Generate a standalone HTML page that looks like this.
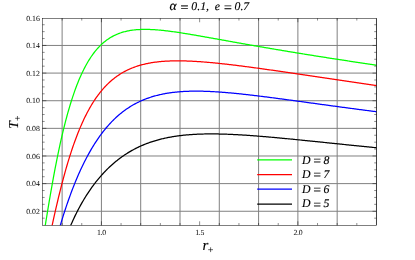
<!DOCTYPE html>
<html><head><meta charset="utf-8"><title>plot</title>
<style>html,body{margin:0;padding:0;background:#fff;}text{stroke:#000;stroke-width:0.15px;}text.tk{stroke:none;}body{width:415px;height:260px;position:relative;overflow:hidden;font-family:"Liberation Serif",serif;}</style></head>
<body>
<svg width="415" height="260" viewBox="0 0 415 260" style="position:absolute;left:0;top:0;text-rendering:geometricPrecision;will-change:transform">
<defs><clipPath id="c"><rect x="42.35" y="18.25" width="334.15" height="207.05"/></clipPath></defs>
<path d="M62.12,18.25 V225.30 M101.41,18.25 V225.30 M140.70,18.25 V225.30 M180.00,18.25 V225.30 M219.29,18.25 V225.30 M258.59,18.25 V225.30 M297.88,18.25 V225.30 M337.17,18.25 V225.30 M376.47,18.25 V225.30 M42.35,211.25 H376.50 M42.35,183.62 H376.50 M42.35,155.99 H376.50 M42.35,128.35 H376.50 M42.35,100.72 H376.50 M42.35,73.08 H376.50 M42.35,45.45 H376.50" stroke="#808080" stroke-width="1.0" fill="none"/>
<g clip-path="url(#c)" fill="none" stroke-width="1.25" stroke-linejoin="round">
<path d="M40.76,359.28 L41.60,351.97 L42.45,345.04 L43.30,338.47 L44.14,332.23 L44.99,326.31 L45.83,320.67 L46.68,315.30 L47.52,310.19 L48.37,305.30 L49.21,300.63 L50.06,296.17 L50.90,291.90 L51.75,287.80 L52.59,283.87 L53.44,280.09 L54.28,276.46 L55.13,272.97 L55.98,269.61 L56.82,266.36 L57.67,263.23 L58.51,260.20 L59.36,257.28 L60.20,254.45 L61.05,251.71 L61.89,249.05 L62.74,246.48 L63.58,243.98 L64.43,241.55 L65.27,239.19 L66.12,236.89 L66.96,234.66 L67.81,232.48 L68.66,230.36 L69.50,228.29 L70.35,226.28 L71.19,224.31 L72.04,222.39 L72.88,220.51 L73.73,218.68 L74.57,216.89 L75.42,215.14 L76.26,213.43 L77.11,211.75 L77.95,210.11 L78.80,208.50 L79.64,206.93 L80.49,205.39 L81.34,203.88 L82.18,202.40 L83.03,200.95 L83.87,199.53 L84.72,198.13 L85.56,196.77 L86.41,195.43 L87.25,194.11 L88.10,192.82 L88.94,191.56 L89.79,190.31 L90.63,189.10 L91.48,187.90 L92.32,186.73 L93.17,185.57 L94.02,184.44 L94.86,183.33 L95.71,182.24 L96.55,181.17 L97.40,180.12 L98.24,179.09 L99.09,178.08 L99.93,177.09 L100.78,176.11 L101.62,175.15 L102.47,174.21 L103.31,173.29 L104.16,172.38 L105.01,171.50 L105.85,170.62 L106.70,169.77 L107.54,168.92 L108.39,168.10 L109.23,167.29 L110.08,166.49 L110.92,165.71 L111.77,164.95 L112.61,164.20 L113.46,163.46 L114.30,162.74 L115.15,162.03 L115.99,161.33 L116.84,160.65 L117.69,159.98 L118.53,159.32 L119.38,158.68 L120.22,158.04 L121.07,157.42 L121.91,156.82 L122.76,156.22 L123.60,155.64 L124.45,155.06 L125.29,154.50 L126.14,153.95 L126.98,153.41 L127.83,152.89 L128.67,152.37 L129.52,151.86 L130.37,151.36 L131.21,150.88 L132.06,150.40 L132.90,149.94 L133.75,149.48 L134.59,149.03 L135.44,148.59 L136.28,148.16 L137.13,147.74 L137.97,147.33 L138.82,146.93 L139.66,146.54 L140.51,146.15 L141.35,145.78 L142.20,145.41 L143.05,145.05 L143.89,144.70 L144.74,144.36 L145.58,144.02 L146.43,143.69 L147.27,143.37 L148.12,143.06 L148.96,142.75 L149.81,142.45 L150.65,142.16 L151.50,141.88 L152.34,141.60 L153.19,141.33 L154.04,141.06 L154.88,140.81 L155.73,140.55 L156.57,140.31 L157.42,140.07 L158.26,139.84 L159.11,139.61 L159.95,139.39 L160.80,139.17 L161.64,138.96 L162.49,138.76 L163.33,138.56 L164.18,138.37 L165.02,138.18 L165.87,138.00 L166.72,137.82 L167.56,137.65 L168.41,137.48 L169.25,137.32 L170.10,137.16 L170.94,137.01 L171.79,136.86 L172.63,136.72 L173.48,136.58 L174.32,136.44 L175.17,136.31 L176.01,136.19 L176.86,136.06 L177.70,135.95 L178.55,135.83 L179.40,135.72 L180.24,135.62 L181.09,135.52 L181.93,135.42 L182.78,135.32 L183.62,135.23 L184.47,135.15 L185.31,135.06 L186.16,134.98 L187.00,134.91 L187.85,134.83 L188.69,134.76 L189.54,134.70 L190.38,134.63 L191.23,134.57 L192.08,134.51 L192.92,134.46 L193.77,134.41 L194.61,134.36 L195.46,134.31 L196.30,134.27 L197.15,134.23 L197.99,134.19 L198.84,134.16 L199.68,134.13 L200.53,134.10 L201.37,134.07 L202.22,134.04 L203.06,134.02 L203.91,134.00 L204.76,133.99 L205.60,133.97 L206.45,133.96 L207.29,133.95 L208.14,133.94 L208.98,133.93 L209.83,133.93 L210.67,133.92 L211.52,133.92 L212.36,133.93 L213.21,133.93 L214.05,133.93 L214.90,133.94 L215.75,133.95 L216.59,133.96 L217.44,133.97 L218.28,133.99 L219.13,134.01 L219.97,134.02 L220.82,134.04 L221.66,134.06 L222.51,134.09 L223.35,134.11 L224.20,134.14 L225.04,134.16 L225.89,134.19 L226.73,134.22 L227.58,134.25 L228.43,134.29 L229.27,134.32 L230.12,134.35 L230.96,134.39 L231.81,134.43 L232.65,134.47 L233.50,134.51 L234.34,134.55 L235.19,134.59 L236.03,134.64 L236.88,134.68 L237.72,134.73 L238.57,134.78 L239.41,134.82 L240.26,134.87 L241.11,134.92 L241.95,134.97 L242.80,135.03 L243.64,135.08 L244.49,135.13 L245.33,135.19 L246.18,135.24 L247.02,135.30 L247.87,135.36 L248.71,135.42 L249.56,135.48 L250.40,135.54 L251.25,135.60 L252.09,135.66 L252.94,135.72 L253.79,135.78 L254.63,135.85 L255.48,135.91 L256.32,135.98 L257.17,136.04 L258.01,136.11 L258.86,136.18 L259.70,136.25 L260.55,136.31 L261.39,136.38 L262.24,136.45 L263.08,136.52 L263.93,136.59 L264.77,136.66 L265.62,136.74 L266.47,136.81 L267.31,136.88 L268.16,136.95 L269.00,137.03 L269.85,137.10 L270.69,137.18 L271.54,137.25 L272.38,137.33 L273.23,137.40 L274.07,137.48 L274.92,137.56 L275.76,137.63 L276.61,137.71 L277.46,137.79 L278.30,137.87 L279.15,137.95 L279.99,138.02 L280.84,138.10 L281.68,138.18 L282.53,138.26 L283.37,138.34 L284.22,138.42 L285.06,138.51 L285.91,138.59 L286.75,138.67 L287.60,138.75 L288.44,138.83 L289.29,138.91 L290.14,139.00 L290.98,139.08 L291.83,139.16 L292.67,139.24 L293.52,139.33 L294.36,139.41 L295.21,139.50 L296.05,139.58 L296.90,139.66 L297.74,139.75 L298.59,139.83 L299.43,139.92 L300.28,140.00 L301.12,140.09 L301.97,140.17 L302.82,140.26 L303.66,140.34 L304.51,140.43 L305.35,140.51 L306.20,140.60 L307.04,140.68 L307.89,140.77 L308.73,140.86 L309.58,140.94 L310.42,141.03 L311.27,141.11 L312.11,141.20 L312.96,141.29 L313.80,141.37 L314.65,141.46 L315.50,141.55 L316.34,141.63 L317.19,141.72 L318.03,141.81 L318.88,141.89 L319.72,141.98 L320.57,142.07 L321.41,142.15 L322.26,142.24 L323.10,142.33 L323.95,142.42 L324.79,142.50 L325.64,142.59 L326.49,142.68 L327.33,142.76 L328.18,142.85 L329.02,142.94 L329.87,143.03 L330.71,143.11 L331.56,143.20 L332.40,143.29 L333.25,143.37 L334.09,143.46 L334.94,143.55 L335.78,143.64 L336.63,143.72 L337.47,143.81 L338.32,143.90 L339.17,143.98 L340.01,144.07 L340.86,144.16 L341.70,144.24 L342.55,144.33 L343.39,144.42 L344.24,144.50 L345.08,144.59 L345.93,144.68 L346.77,144.76 L347.62,144.85 L348.46,144.94 L349.31,145.02 L350.15,145.11 L351.00,145.20 L351.85,145.28 L352.69,145.37 L353.54,145.45 L354.38,145.54 L355.23,145.63 L356.07,145.71 L356.92,145.80 L357.76,145.88 L358.61,145.97 L359.45,146.06 L360.30,146.14 L361.14,146.23 L361.99,146.31 L362.83,146.40 L363.68,146.48 L364.53,146.57 L365.37,146.65 L366.22,146.74 L367.06,146.82 L367.91,146.91 L368.75,146.99 L369.60,147.08 L370.44,147.16 L371.29,147.24 L372.13,147.33 L372.98,147.41 L373.82,147.50 L374.67,147.58 L375.51,147.66 L376.36,147.75 L377.21,147.83 L378.05,147.91" stroke="#000000"/>
<path d="M40.76,310.74 L41.60,305.97 L42.45,301.34 L43.30,296.84 L44.14,292.45 L44.99,288.18 L45.83,284.01 L46.68,279.95 L47.52,275.99 L48.37,272.11 L49.21,268.33 L50.06,264.63 L50.90,261.00 L51.75,257.46 L52.59,253.99 L53.44,250.60 L54.28,247.27 L55.13,244.01 L55.98,240.82 L56.82,237.68 L57.67,234.61 L58.51,231.60 L59.36,228.64 L60.20,225.74 L61.05,222.90 L61.89,220.10 L62.74,217.36 L63.58,214.67 L64.43,212.03 L65.27,209.44 L66.12,206.90 L66.96,204.40 L67.81,201.95 L68.66,199.54 L69.50,197.18 L70.35,194.85 L71.19,192.58 L72.04,190.34 L72.88,188.14 L73.73,185.99 L74.57,183.87 L75.42,181.79 L76.26,179.75 L77.11,177.75 L77.95,175.78 L78.80,173.85 L79.64,171.96 L80.49,170.10 L81.34,168.28 L82.18,166.49 L83.03,164.73 L83.87,163.01 L84.72,161.32 L85.56,159.66 L86.41,158.03 L87.25,156.44 L88.10,154.87 L88.94,153.34 L89.79,151.83 L90.63,150.35 L91.48,148.91 L92.32,147.49 L93.17,146.09 L94.02,144.73 L94.86,143.39 L95.71,142.08 L96.55,140.80 L97.40,139.54 L98.24,138.30 L99.09,137.09 L99.93,135.91 L100.78,134.75 L101.62,133.61 L102.47,132.50 L103.31,131.41 L104.16,130.34 L105.01,129.29 L105.85,128.27 L106.70,127.27 L107.54,126.29 L108.39,125.32 L109.23,124.38 L110.08,123.46 L110.92,122.56 L111.77,121.68 L112.61,120.82 L113.46,119.98 L114.30,119.15 L115.15,118.34 L115.99,117.55 L116.84,116.78 L117.69,116.03 L118.53,115.29 L119.38,114.57 L120.22,113.86 L121.07,113.18 L121.91,112.50 L122.76,111.85 L123.60,111.20 L124.45,110.58 L125.29,109.96 L126.14,109.36 L126.98,108.78 L127.83,108.21 L128.67,107.65 L129.52,107.11 L130.37,106.58 L131.21,106.06 L132.06,105.56 L132.90,105.06 L133.75,104.58 L134.59,104.11 L135.44,103.66 L136.28,103.21 L137.13,102.78 L137.97,102.36 L138.82,101.95 L139.66,101.55 L140.51,101.16 L141.35,100.78 L142.20,100.41 L143.05,100.05 L143.89,99.70 L144.74,99.36 L145.58,99.02 L146.43,98.70 L147.27,98.39 L148.12,98.09 L148.96,97.79 L149.81,97.50 L150.65,97.23 L151.50,96.96 L152.34,96.70 L153.19,96.44 L154.04,96.20 L154.88,95.96 L155.73,95.73 L156.57,95.50 L157.42,95.29 L158.26,95.08 L159.11,94.87 L159.95,94.68 L160.80,94.49 L161.64,94.31 L162.49,94.13 L163.33,93.96 L164.18,93.80 L165.02,93.64 L165.87,93.49 L166.72,93.34 L167.56,93.20 L168.41,93.07 L169.25,92.94 L170.10,92.81 L170.94,92.70 L171.79,92.58 L172.63,92.48 L173.48,92.37 L174.32,92.27 L175.17,92.18 L176.01,92.09 L176.86,92.01 L177.70,91.93 L178.55,91.85 L179.40,91.78 L180.24,91.71 L181.09,91.65 L181.93,91.59 L182.78,91.54 L183.62,91.49 L184.47,91.44 L185.31,91.40 L186.16,91.36 L187.00,91.32 L187.85,91.29 L188.69,91.26 L189.54,91.24 L190.38,91.21 L191.23,91.19 L192.08,91.18 L192.92,91.17 L193.77,91.16 L194.61,91.15 L195.46,91.15 L196.30,91.15 L197.15,91.15 L197.99,91.15 L198.84,91.16 L199.68,91.17 L200.53,91.18 L201.37,91.20 L202.22,91.22 L203.06,91.24 L203.91,91.26 L204.76,91.28 L205.60,91.31 L206.45,91.34 L207.29,91.37 L208.14,91.41 L208.98,91.44 L209.83,91.48 L210.67,91.52 L211.52,91.56 L212.36,91.61 L213.21,91.65 L214.05,91.70 L214.90,91.75 L215.75,91.80 L216.59,91.85 L217.44,91.91 L218.28,91.96 L219.13,92.02 L219.97,92.08 L220.82,92.14 L221.66,92.21 L222.51,92.27 L223.35,92.33 L224.20,92.40 L225.04,92.47 L225.89,92.54 L226.73,92.61 L227.58,92.68 L228.43,92.76 L229.27,92.83 L230.12,92.91 L230.96,92.98 L231.81,93.06 L232.65,93.14 L233.50,93.22 L234.34,93.30 L235.19,93.39 L236.03,93.47 L236.88,93.55 L237.72,93.64 L238.57,93.73 L239.41,93.81 L240.26,93.90 L241.11,93.99 L241.95,94.08 L242.80,94.17 L243.64,94.26 L244.49,94.36 L245.33,94.45 L246.18,94.55 L247.02,94.64 L247.87,94.74 L248.71,94.83 L249.56,94.93 L250.40,95.03 L251.25,95.13 L252.09,95.22 L252.94,95.32 L253.79,95.42 L254.63,95.53 L255.48,95.63 L256.32,95.73 L257.17,95.83 L258.01,95.93 L258.86,96.04 L259.70,96.14 L260.55,96.25 L261.39,96.35 L262.24,96.46 L263.08,96.56 L263.93,96.67 L264.77,96.78 L265.62,96.88 L266.47,96.99 L267.31,97.10 L268.16,97.21 L269.00,97.32 L269.85,97.42 L270.69,97.53 L271.54,97.64 L272.38,97.75 L273.23,97.86 L274.07,97.97 L274.92,98.09 L275.76,98.20 L276.61,98.31 L277.46,98.42 L278.30,98.53 L279.15,98.64 L279.99,98.76 L280.84,98.87 L281.68,98.98 L282.53,99.09 L283.37,99.21 L284.22,99.32 L285.06,99.43 L285.91,99.55 L286.75,99.66 L287.60,99.78 L288.44,99.89 L289.29,100.00 L290.14,100.12 L290.98,100.23 L291.83,100.35 L292.67,100.46 L293.52,100.58 L294.36,100.69 L295.21,100.81 L296.05,100.92 L296.90,101.04 L297.74,101.15 L298.59,101.27 L299.43,101.39 L300.28,101.50 L301.12,101.62 L301.97,101.73 L302.82,101.85 L303.66,101.96 L304.51,102.08 L305.35,102.20 L306.20,102.31 L307.04,102.43 L307.89,102.54 L308.73,102.66 L309.58,102.78 L310.42,102.89 L311.27,103.01 L312.11,103.12 L312.96,103.24 L313.80,103.35 L314.65,103.47 L315.50,103.59 L316.34,103.70 L317.19,103.82 L318.03,103.93 L318.88,104.05 L319.72,104.17 L320.57,104.28 L321.41,104.40 L322.26,104.51 L323.10,104.63 L323.95,104.74 L324.79,104.86 L325.64,104.97 L326.49,105.09 L327.33,105.20 L328.18,105.32 L329.02,105.43 L329.87,105.55 L330.71,105.66 L331.56,105.78 L332.40,105.89 L333.25,106.01 L334.09,106.12 L334.94,106.24 L335.78,106.35 L336.63,106.47 L337.47,106.58 L338.32,106.69 L339.17,106.81 L340.01,106.92 L340.86,107.04 L341.70,107.15 L342.55,107.26 L343.39,107.38 L344.24,107.49 L345.08,107.60 L345.93,107.72 L346.77,107.83 L347.62,107.94 L348.46,108.06 L349.31,108.17 L350.15,108.28 L351.00,108.39 L351.85,108.50 L352.69,108.62 L353.54,108.73 L354.38,108.84 L355.23,108.95 L356.07,109.06 L356.92,109.18 L357.76,109.29 L358.61,109.40 L359.45,109.51 L360.30,109.62 L361.14,109.73 L361.99,109.84 L362.83,109.95 L363.68,110.06 L364.53,110.17 L365.37,110.28 L366.22,110.39 L367.06,110.50 L367.91,110.61 L368.75,110.72 L369.60,110.83 L370.44,110.94 L371.29,111.05 L372.13,111.16 L372.98,111.27 L373.82,111.38 L374.67,111.48 L375.51,111.59 L376.36,111.70 L377.21,111.81 L378.05,111.92" stroke="#0000ff"/>
<path d="M40.76,278.40 L41.60,274.64 L42.45,270.81 L43.30,266.91 L44.14,262.97 L44.99,259.00 L45.83,255.00 L46.68,250.99 L47.52,246.98 L48.37,242.98 L49.21,238.99 L50.06,235.02 L50.90,231.08 L51.75,227.16 L52.59,223.29 L53.44,219.45 L54.28,215.66 L55.13,211.92 L55.98,208.23 L56.82,204.59 L57.67,201.00 L58.51,197.47 L59.36,194.01 L60.20,190.59 L61.05,187.24 L61.89,183.96 L62.74,180.73 L63.58,177.56 L64.43,174.46 L65.27,171.42 L66.12,168.44 L66.96,165.52 L67.81,162.67 L68.66,159.88 L69.50,157.15 L70.35,154.47 L71.19,151.86 L72.04,149.31 L72.88,146.82 L73.73,144.38 L74.57,142.00 L75.42,139.68 L76.26,137.42 L77.11,135.20 L77.95,133.04 L78.80,130.94 L79.64,128.88 L80.49,126.88 L81.34,124.93 L82.18,123.02 L83.03,121.16 L83.87,119.36 L84.72,117.59 L85.56,115.87 L86.41,114.20 L87.25,112.57 L88.10,110.98 L88.94,109.43 L89.79,107.92 L90.63,106.46 L91.48,105.03 L92.32,103.64 L93.17,102.28 L94.02,100.97 L94.86,99.68 L95.71,98.44 L96.55,97.22 L97.40,96.04 L98.24,94.89 L99.09,93.77 L99.93,92.69 L100.78,91.63 L101.62,90.60 L102.47,89.60 L103.31,88.63 L104.16,87.68 L105.01,86.76 L105.85,85.87 L106.70,85.00 L107.54,84.16 L108.39,83.34 L109.23,82.55 L110.08,81.77 L110.92,81.02 L111.77,80.29 L112.61,79.58 L113.46,78.90 L114.30,78.23 L115.15,77.58 L115.99,76.95 L116.84,76.34 L117.69,75.75 L118.53,75.17 L119.38,74.61 L120.22,74.07 L121.07,73.55 L121.91,73.04 L122.76,72.55 L123.60,72.07 L124.45,71.61 L125.29,71.16 L126.14,70.72 L126.98,70.30 L127.83,69.89 L128.67,69.50 L129.52,69.12 L130.37,68.75 L131.21,68.39 L132.06,68.04 L132.90,67.71 L133.75,67.39 L134.59,67.08 L135.44,66.77 L136.28,66.48 L137.13,66.20 L137.97,65.93 L138.82,65.67 L139.66,65.42 L140.51,65.17 L141.35,64.94 L142.20,64.71 L143.05,64.50 L143.89,64.29 L144.74,64.09 L145.58,63.89 L146.43,63.71 L147.27,63.53 L148.12,63.36 L148.96,63.19 L149.81,63.04 L150.65,62.89 L151.50,62.74 L152.34,62.61 L153.19,62.48 L154.04,62.35 L154.88,62.23 L155.73,62.12 L156.57,62.02 L157.42,61.91 L158.26,61.82 L159.11,61.73 L159.95,61.64 L160.80,61.56 L161.64,61.49 L162.49,61.41 L163.33,61.35 L164.18,61.29 L165.02,61.23 L165.87,61.18 L166.72,61.13 L167.56,61.08 L168.41,61.04 L169.25,61.01 L170.10,60.98 L170.94,60.95 L171.79,60.92 L172.63,60.90 L173.48,60.88 L174.32,60.87 L175.17,60.86 L176.01,60.85 L176.86,60.84 L177.70,60.84 L178.55,60.84 L179.40,60.85 L180.24,60.86 L181.09,60.87 L181.93,60.88 L182.78,60.89 L183.62,60.91 L184.47,60.93 L185.31,60.96 L186.16,60.98 L187.00,61.01 L187.85,61.04 L188.69,61.07 L189.54,61.11 L190.38,61.14 L191.23,61.18 L192.08,61.23 L192.92,61.27 L193.77,61.31 L194.61,61.36 L195.46,61.41 L196.30,61.46 L197.15,61.51 L197.99,61.57 L198.84,61.63 L199.68,61.68 L200.53,61.74 L201.37,61.80 L202.22,61.87 L203.06,61.93 L203.91,62.00 L204.76,62.07 L205.60,62.13 L206.45,62.21 L207.29,62.28 L208.14,62.35 L208.98,62.42 L209.83,62.50 L210.67,62.58 L211.52,62.65 L212.36,62.73 L213.21,62.81 L214.05,62.90 L214.90,62.98 L215.75,63.06 L216.59,63.15 L217.44,63.23 L218.28,63.32 L219.13,63.41 L219.97,63.50 L220.82,63.59 L221.66,63.68 L222.51,63.77 L223.35,63.86 L224.20,63.96 L225.04,64.05 L225.89,64.15 L226.73,64.24 L227.58,64.34 L228.43,64.44 L229.27,64.54 L230.12,64.63 L230.96,64.73 L231.81,64.83 L232.65,64.94 L233.50,65.04 L234.34,65.14 L235.19,65.24 L236.03,65.35 L236.88,65.45 L237.72,65.56 L238.57,65.66 L239.41,65.77 L240.26,65.88 L241.11,65.98 L241.95,66.09 L242.80,66.20 L243.64,66.31 L244.49,66.42 L245.33,66.53 L246.18,66.64 L247.02,66.75 L247.87,66.86 L248.71,66.97 L249.56,67.08 L250.40,67.20 L251.25,67.31 L252.09,67.42 L252.94,67.54 L253.79,67.65 L254.63,67.77 L255.48,67.88 L256.32,68.00 L257.17,68.11 L258.01,68.23 L258.86,68.34 L259.70,68.46 L260.55,68.58 L261.39,68.70 L262.24,68.81 L263.08,68.93 L263.93,69.05 L264.77,69.17 L265.62,69.29 L266.47,69.40 L267.31,69.52 L268.16,69.64 L269.00,69.76 L269.85,69.88 L270.69,70.00 L271.54,70.12 L272.38,70.24 L273.23,70.37 L274.07,70.49 L274.92,70.61 L275.76,70.73 L276.61,70.85 L277.46,70.97 L278.30,71.09 L279.15,71.22 L279.99,71.34 L280.84,71.46 L281.68,71.58 L282.53,71.71 L283.37,71.83 L284.22,71.95 L285.06,72.08 L285.91,72.20 L286.75,72.32 L287.60,72.45 L288.44,72.57 L289.29,72.69 L290.14,72.82 L290.98,72.94 L291.83,73.07 L292.67,73.19 L293.52,73.31 L294.36,73.44 L295.21,73.56 L296.05,73.69 L296.90,73.81 L297.74,73.94 L298.59,74.06 L299.43,74.19 L300.28,74.31 L301.12,74.44 L301.97,74.56 L302.82,74.69 L303.66,74.81 L304.51,74.94 L305.35,75.06 L306.20,75.19 L307.04,75.31 L307.89,75.44 L308.73,75.56 L309.58,75.69 L310.42,75.82 L311.27,75.94 L312.11,76.07 L312.96,76.19 L313.80,76.32 L314.65,76.44 L315.50,76.57 L316.34,76.70 L317.19,76.82 L318.03,76.95 L318.88,77.07 L319.72,77.20 L320.57,77.32 L321.41,77.45 L322.26,77.58 L323.10,77.70 L323.95,77.83 L324.79,77.95 L325.64,78.08 L326.49,78.20 L327.33,78.33 L328.18,78.46 L329.02,78.58 L329.87,78.71 L330.71,78.83 L331.56,78.96 L332.40,79.08 L333.25,79.21 L334.09,79.34 L334.94,79.46 L335.78,79.59 L336.63,79.71 L337.47,79.84 L338.32,79.96 L339.17,80.09 L340.01,80.21 L340.86,80.34 L341.70,80.46 L342.55,80.59 L343.39,80.71 L344.24,80.84 L345.08,80.96 L345.93,81.09 L346.77,81.21 L347.62,81.34 L348.46,81.46 L349.31,81.59 L350.15,81.71 L351.00,81.84 L351.85,81.96 L352.69,82.09 L353.54,82.21 L354.38,82.34 L355.23,82.46 L356.07,82.58 L356.92,82.71 L357.76,82.83 L358.61,82.96 L359.45,83.08 L360.30,83.21 L361.14,83.33 L361.99,83.45 L362.83,83.58 L363.68,83.70 L364.53,83.82 L365.37,83.95 L366.22,84.07 L367.06,84.19 L367.91,84.32 L368.75,84.44 L369.60,84.56 L370.44,84.69 L371.29,84.81 L372.13,84.93 L372.98,85.06 L373.82,85.18 L374.67,85.30 L375.51,85.42 L376.36,85.55 L377.21,85.67 L378.05,85.79" stroke="#ff0000"/>
<path d="M40.76,253.89 L41.60,248.55 L42.45,243.20 L43.30,237.85 L44.14,232.53 L44.99,227.22 L45.83,221.96 L46.68,216.74 L47.52,211.58 L48.37,206.48 L49.21,201.45 L50.06,196.49 L50.90,191.60 L51.75,186.80 L52.59,182.08 L53.44,177.45 L54.28,172.91 L55.13,168.47 L55.98,164.11 L56.82,159.85 L57.67,155.68 L58.51,151.60 L59.36,147.63 L60.20,143.74 L61.05,139.95 L61.89,136.26 L62.74,132.66 L63.58,129.15 L64.43,125.73 L65.27,122.40 L66.12,119.17 L66.96,116.02 L67.81,112.95 L68.66,109.98 L69.50,107.08 L70.35,104.27 L71.19,101.54 L72.04,98.89 L72.88,96.32 L73.73,93.83 L74.57,91.40 L75.42,89.06 L76.26,86.78 L77.11,84.57 L77.95,82.44 L78.80,80.36 L79.64,78.36 L80.49,76.41 L81.34,74.53 L82.18,72.71 L83.03,70.95 L83.87,69.25 L84.72,67.60 L85.56,66.00 L86.41,64.46 L87.25,62.97 L88.10,61.53 L88.94,60.14 L89.79,58.80 L90.63,57.50 L91.48,56.25 L92.32,55.04 L93.17,53.88 L94.02,52.75 L94.86,51.67 L95.71,50.63 L96.55,49.62 L97.40,48.65 L98.24,47.71 L99.09,46.81 L99.93,45.94 L100.78,45.11 L101.62,44.31 L102.47,43.54 L103.31,42.80 L104.16,42.08 L105.01,41.40 L105.85,40.74 L106.70,40.11 L107.54,39.50 L108.39,38.92 L109.23,38.37 L110.08,37.83 L110.92,37.32 L111.77,36.84 L112.61,36.37 L113.46,35.92 L114.30,35.50 L115.15,35.09 L115.99,34.70 L116.84,34.33 L117.69,33.98 L118.53,33.65 L119.38,33.33 L120.22,33.02 L121.07,32.74 L121.91,32.47 L122.76,32.21 L123.60,31.97 L124.45,31.74 L125.29,31.52 L126.14,31.32 L126.98,31.13 L127.83,30.95 L128.67,30.78 L129.52,30.63 L130.37,30.48 L131.21,30.35 L132.06,30.22 L132.90,30.11 L133.75,30.00 L134.59,29.91 L135.44,29.82 L136.28,29.74 L137.13,29.68 L137.97,29.61 L138.82,29.56 L139.66,29.52 L140.51,29.48 L141.35,29.45 L142.20,29.42 L143.05,29.40 L143.89,29.39 L144.74,29.39 L145.58,29.39 L146.43,29.40 L147.27,29.41 L148.12,29.43 L148.96,29.45 L149.81,29.48 L150.65,29.51 L151.50,29.55 L152.34,29.59 L153.19,29.64 L154.04,29.69 L154.88,29.74 L155.73,29.80 L156.57,29.87 L157.42,29.93 L158.26,30.00 L159.11,30.08 L159.95,30.15 L160.80,30.23 L161.64,30.32 L162.49,30.40 L163.33,30.49 L164.18,30.58 L165.02,30.68 L165.87,30.78 L166.72,30.88 L167.56,30.98 L168.41,31.08 L169.25,31.19 L170.10,31.30 L170.94,31.41 L171.79,31.52 L172.63,31.64 L173.48,31.75 L174.32,31.87 L175.17,31.99 L176.01,32.11 L176.86,32.24 L177.70,32.36 L178.55,32.49 L179.40,32.61 L180.24,32.74 L181.09,32.87 L181.93,33.00 L182.78,33.14 L183.62,33.27 L184.47,33.40 L185.31,33.54 L186.16,33.68 L187.00,33.81 L187.85,33.95 L188.69,34.09 L189.54,34.23 L190.38,34.37 L191.23,34.51 L192.08,34.66 L192.92,34.80 L193.77,34.94 L194.61,35.09 L195.46,35.23 L196.30,35.38 L197.15,35.52 L197.99,35.67 L198.84,35.82 L199.68,35.96 L200.53,36.11 L201.37,36.26 L202.22,36.41 L203.06,36.56 L203.91,36.71 L204.76,36.86 L205.60,37.01 L206.45,37.16 L207.29,37.31 L208.14,37.46 L208.98,37.61 L209.83,37.76 L210.67,37.91 L211.52,38.06 L212.36,38.21 L213.21,38.36 L214.05,38.52 L214.90,38.67 L215.75,38.82 L216.59,38.97 L217.44,39.12 L218.28,39.28 L219.13,39.43 L219.97,39.58 L220.82,39.73 L221.66,39.88 L222.51,40.04 L223.35,40.19 L224.20,40.34 L225.04,40.49 L225.89,40.65 L226.73,40.80 L227.58,40.95 L228.43,41.10 L229.27,41.25 L230.12,41.41 L230.96,41.56 L231.81,41.71 L232.65,41.86 L233.50,42.01 L234.34,42.16 L235.19,42.31 L236.03,42.47 L236.88,42.62 L237.72,42.77 L238.57,42.92 L239.41,43.07 L240.26,43.22 L241.11,43.37 L241.95,43.52 L242.80,43.67 L243.64,43.82 L244.49,43.97 L245.33,44.12 L246.18,44.27 L247.02,44.42 L247.87,44.57 L248.71,44.72 L249.56,44.87 L250.40,45.02 L251.25,45.16 L252.09,45.31 L252.94,45.46 L253.79,45.61 L254.63,45.76 L255.48,45.90 L256.32,46.05 L257.17,46.20 L258.01,46.35 L258.86,46.49 L259.70,46.64 L260.55,46.79 L261.39,46.93 L262.24,47.08 L263.08,47.22 L263.93,47.37 L264.77,47.52 L265.62,47.66 L266.47,47.81 L267.31,47.95 L268.16,48.10 L269.00,48.24 L269.85,48.39 L270.69,48.53 L271.54,48.67 L272.38,48.82 L273.23,48.96 L274.07,49.10 L274.92,49.25 L275.76,49.39 L276.61,49.53 L277.46,49.68 L278.30,49.82 L279.15,49.96 L279.99,50.10 L280.84,50.24 L281.68,50.39 L282.53,50.53 L283.37,50.67 L284.22,50.81 L285.06,50.95 L285.91,51.09 L286.75,51.23 L287.60,51.37 L288.44,51.51 L289.29,51.65 L290.14,51.79 L290.98,51.93 L291.83,52.07 L292.67,52.21 L293.52,52.35 L294.36,52.49 L295.21,52.63 L296.05,52.77 L296.90,52.90 L297.74,53.04 L298.59,53.18 L299.43,53.32 L300.28,53.45 L301.12,53.59 L301.97,53.73 L302.82,53.87 L303.66,54.00 L304.51,54.14 L305.35,54.27 L306.20,54.41 L307.04,54.55 L307.89,54.68 L308.73,54.82 L309.58,54.95 L310.42,55.09 L311.27,55.22 L312.11,55.36 L312.96,55.49 L313.80,55.63 L314.65,55.76 L315.50,55.90 L316.34,56.03 L317.19,56.16 L318.03,56.30 L318.88,56.43 L319.72,56.57 L320.57,56.70 L321.41,56.83 L322.26,56.96 L323.10,57.10 L323.95,57.23 L324.79,57.36 L325.64,57.49 L326.49,57.63 L327.33,57.76 L328.18,57.89 L329.02,58.02 L329.87,58.15 L330.71,58.28 L331.56,58.41 L332.40,58.54 L333.25,58.68 L334.09,58.81 L334.94,58.94 L335.78,59.07 L336.63,59.20 L337.47,59.33 L338.32,59.46 L339.17,59.59 L340.01,59.71 L340.86,59.84 L341.70,59.97 L342.55,60.10 L343.39,60.23 L344.24,60.36 L345.08,60.49 L345.93,60.62 L346.77,60.74 L347.62,60.87 L348.46,61.00 L349.31,61.13 L350.15,61.26 L351.00,61.38 L351.85,61.51 L352.69,61.64 L353.54,61.76 L354.38,61.89 L355.23,62.02 L356.07,62.14 L356.92,62.27 L357.76,62.40 L358.61,62.52 L359.45,62.65 L360.30,62.77 L361.14,62.90 L361.99,63.03 L362.83,63.15 L363.68,63.28 L364.53,63.40 L365.37,63.53 L366.22,63.65 L367.06,63.78 L367.91,63.90 L368.75,64.02 L369.60,64.15 L370.44,64.27 L371.29,64.40 L372.13,64.52 L372.98,64.64 L373.82,64.77 L374.67,64.89 L375.51,65.01 L376.36,65.14 L377.21,65.26 L378.05,65.38" stroke="#00ff00"/>
</g>
<path d="M42.35,218.16 h2.30 M376.50,218.16 h-2.30 M42.35,211.25 h4.00 M376.50,211.25 h-4.00 M42.35,204.34 h2.30 M376.50,204.34 h-2.30 M42.35,197.44 h2.30 M376.50,197.44 h-2.30 M42.35,190.53 h2.30 M376.50,190.53 h-2.30 M42.35,183.62 h4.00 M376.50,183.62 h-4.00 M42.35,176.71 h2.30 M376.50,176.71 h-2.30 M42.35,169.80 h2.30 M376.50,169.80 h-2.30 M42.35,162.89 h2.30 M376.50,162.89 h-2.30 M42.35,155.98 h4.00 M376.50,155.98 h-4.00 M42.35,149.08 h2.30 M376.50,149.08 h-2.30 M42.35,142.17 h2.30 M376.50,142.17 h-2.30 M42.35,135.26 h2.30 M376.50,135.26 h-2.30 M42.35,128.35 h4.00 M376.50,128.35 h-4.00 M42.35,121.44 h2.30 M376.50,121.44 h-2.30 M42.35,114.53 h2.30 M376.50,114.53 h-2.30 M42.35,107.63 h2.30 M376.50,107.63 h-2.30 M42.35,100.72 h4.00 M376.50,100.72 h-4.00 M42.35,93.81 h2.30 M376.50,93.81 h-2.30 M42.35,86.90 h2.30 M376.50,86.90 h-2.30 M42.35,79.99 h2.30 M376.50,79.99 h-2.30 M42.35,73.08 h4.00 M376.50,73.08 h-4.00 M42.35,66.17 h2.30 M376.50,66.17 h-2.30 M42.35,59.27 h2.30 M376.50,59.27 h-2.30 M42.35,52.36 h2.30 M376.50,52.36 h-2.30 M42.35,45.45 h4.00 M376.50,45.45 h-4.00 M42.35,38.54 h2.30 M376.50,38.54 h-2.30 M42.35,31.63 h2.30 M376.50,31.63 h-2.30 M42.35,24.72 h2.30 M376.50,24.72 h-2.30 M62.12,225.30 v-2.30 M62.12,18.25 v2.30 M81.76,225.30 v-2.30 M81.76,18.25 v2.30 M101.41,225.30 v-4.00 M101.41,18.25 v4.00 M121.06,225.30 v-2.30 M121.06,18.25 v2.30 M140.70,225.30 v-2.30 M140.70,18.25 v2.30 M160.35,225.30 v-2.30 M160.35,18.25 v2.30 M180.00,225.30 v-2.30 M180.00,18.25 v2.30 M199.64,225.30 v-4.00 M199.64,18.25 v4.00 M219.29,225.30 v-2.30 M219.29,18.25 v2.30 M238.94,225.30 v-2.30 M238.94,18.25 v2.30 M258.59,225.30 v-2.30 M258.59,18.25 v2.30 M278.23,225.30 v-2.30 M278.23,18.25 v2.30 M297.88,225.30 v-4.00 M297.88,18.25 v4.00 M317.53,225.30 v-2.30 M317.53,18.25 v2.30 M337.17,225.30 v-2.30 M337.17,18.25 v2.30 M356.82,225.30 v-2.30 M356.82,18.25 v2.30" stroke="#000" stroke-width="0.45" fill="none"/>
<rect x="42.35" y="18.25" width="334.15" height="207.05" fill="none" stroke="#000" stroke-width="0.5"/>
<path d="M257.2,159.8 H292" stroke="#00ff00" stroke-width="1.25"/>
<path d="M257.2,174.5 H292" stroke="#ff0000" stroke-width="1.25"/>
<path d="M257.2,189.2 H292" stroke="#0000ff" stroke-width="1.25"/>
<path d="M257.2,204.0 H292" stroke="#000000" stroke-width="1.25"/>
<text x="39.8" y="213.95" font-family="Liberation Serif, serif" font-size="7.8" text-anchor="end" fill="#000" class="tk">0.02</text>
<text x="39.8" y="186.32" font-family="Liberation Serif, serif" font-size="7.8" text-anchor="end" fill="#000" class="tk">0.04</text>
<text x="39.8" y="158.69" font-family="Liberation Serif, serif" font-size="7.8" text-anchor="end" fill="#000" class="tk">0.06</text>
<text x="39.8" y="131.05" font-family="Liberation Serif, serif" font-size="7.8" text-anchor="end" fill="#000" class="tk">0.08</text>
<text x="39.8" y="103.42" font-family="Liberation Serif, serif" font-size="7.8" text-anchor="end" fill="#000" class="tk">0.10</text>
<text x="39.8" y="75.78" font-family="Liberation Serif, serif" font-size="7.8" text-anchor="end" fill="#000" class="tk">0.12</text>
<text x="39.8" y="48.15" font-family="Liberation Serif, serif" font-size="7.8" text-anchor="end" fill="#000" class="tk">0.14</text>
<text x="39.8" y="20.51" font-family="Liberation Serif, serif" font-size="7.8" text-anchor="end" fill="#000" class="tk">0.16</text>
<text x="101.41" y="234.5" font-family="Liberation Serif, serif" font-size="7.8" text-anchor="middle" letter-spacing="-0.25" fill="#000" class="tk">1.0</text>
<text x="199.64" y="234.5" font-family="Liberation Serif, serif" font-size="7.8" text-anchor="middle" letter-spacing="-0.25" fill="#000" class="tk">1.5</text>
<text x="297.88" y="234.5" font-family="Liberation Serif, serif" font-size="7.8" text-anchor="middle" letter-spacing="-0.25" fill="#000" class="tk">2.0</text>
<text x="169.60" y="9.50" font-family="Liberation Serif, serif" font-size="13.57" font-style="italic">α</text>
<text x="179.60" y="11.50" font-family="Liberation Serif, serif" font-size="14.40" font-style="italic">=</text>
<text x="191.30" y="9.50" font-family="Liberation Serif, serif" font-size="11.80" font-style="italic">0.1,</text>
<text x="214.80" y="9.50" font-family="Liberation Serif, serif" font-size="11.80" font-style="italic">e</text>
<text x="223.00" y="11.50" font-family="Liberation Serif, serif" font-size="14.16" font-style="italic">=</text>
<text x="234.50" y="9.50" font-family="Liberation Serif, serif" font-size="11.80" font-style="italic">0.7</text>
<text x="301.9" y="163.50" font-family="Liberation Serif, serif" font-size="11.80" font-style="italic">D</text>
<text x="312.6" y="164.70" font-family="Liberation Serif, serif" font-size="13.57" font-style="italic">=</text>
<text x="323.6" y="163.50" font-family="Liberation Serif, serif" font-size="11.80" font-style="italic">8</text>
<text x="301.9" y="177.90" font-family="Liberation Serif, serif" font-size="11.80" font-style="italic">D</text>
<text x="312.6" y="179.10" font-family="Liberation Serif, serif" font-size="13.57" font-style="italic">=</text>
<text x="323.6" y="177.90" font-family="Liberation Serif, serif" font-size="11.80" font-style="italic">7</text>
<text x="301.9" y="192.70" font-family="Liberation Serif, serif" font-size="11.80" font-style="italic">D</text>
<text x="312.6" y="193.90" font-family="Liberation Serif, serif" font-size="13.57" font-style="italic">=</text>
<text x="323.6" y="192.70" font-family="Liberation Serif, serif" font-size="11.80" font-style="italic">6</text>
<text x="301.9" y="207.30" font-family="Liberation Serif, serif" font-size="11.80" font-style="italic">D</text>
<text x="312.6" y="208.50" font-family="Liberation Serif, serif" font-size="13.57" font-style="italic">=</text>
<text x="323.6" y="207.30" font-family="Liberation Serif, serif" font-size="11.80" font-style="italic">5</text>
<text x="202.4" y="249.7" font-family="Liberation Serif, serif" font-size="15" font-style="italic">r</text>
<path d="M208.2,249.7 H213.0 M210.6,247.3 V252.1 M15.15,118.3 H19.75 M17.45,116.0 V120.6" stroke="#000" stroke-width="0.6" fill="none"/>
<text transform="translate(17.8,128.7) rotate(-90)" font-family="Liberation Serif, serif" font-size="13.6" font-style="italic">T</text>
</svg>
</body></html>
